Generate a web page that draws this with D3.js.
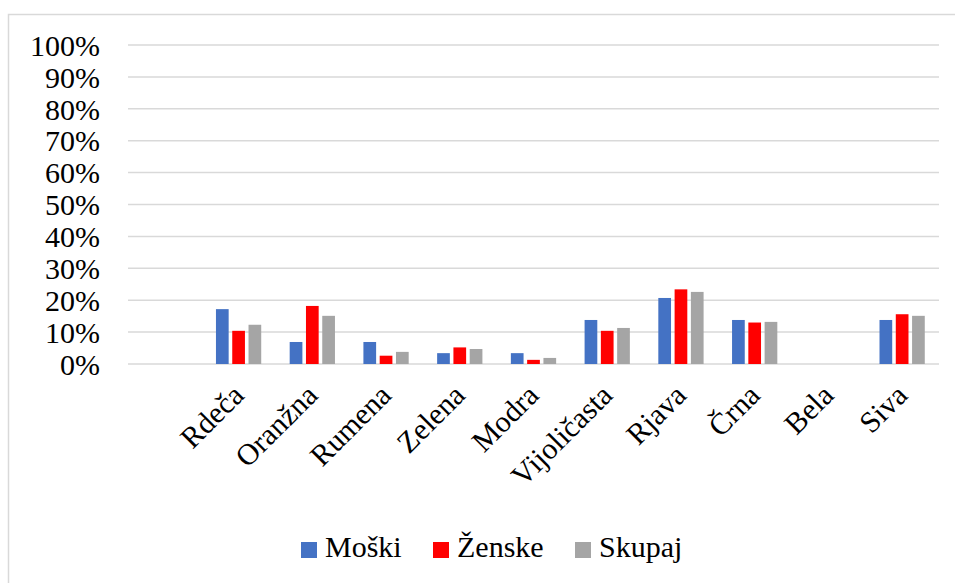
<!DOCTYPE html>
<html>
<head>
<meta charset="utf-8">
<script src="https://cdn.jsdelivr.net/npm/d3@7"></script>
<style>
  body { margin: 0; background: #fff; }
  svg text { font-family: "Liberation Serif", "Times New Roman", serif; fill: #000; }
</style>
</head>
<body>
<div id="chart"></div>
<script>
// categories (first slot is empty in the original chart)
const categories = ["", "Rdeča", "Oranžna", "Rumena", "Zelena", "Modra", "Vijoličasta", "Rjava", "Črna", "Bela", "Siva"];
const seriesNames = ["Moški", "Ženske", "Skupaj"];
const colors = ["#4472C4", "#FF0000", "#A5A5A5"];

// values in %
const moski  = [null, 17.2, 6.9, 6.9, 3.4, 3.4, 13.8, 20.7, 13.8, 0, 13.8];
const zenske = [null, 10.4, 18.2, 2.6, 5.2, 1.3, 10.4, 23.4, 13.0, 0, 15.6];
const skupaj = [null, 12.3, 15.1, 3.8, 4.7, 1.9, 11.3, 22.6, 13.2, 0, 15.1];
const yTicks = [0, 10, 20, 30, 40, 50, 60, 70, 80, 90, 100];

const seriesValues = [moski, zenske, skupaj];

const width = 955, height = 583;
const margin = {top: 45, right: 16, bottom: 219, left: 128};
const serif = "'Liberation Serif', 'Times New Roman', serif";

const svg = d3.select("#chart")
  .append("svg")
  .attr("width", width)
  .attr("height", height)
  .attr("font-family", serif);

// chart frame
svg.append("rect")
  .attr("x", 8.5).attr("y", 14.5)
  .attr("width", 960).attr("height", 600)
  .attr("fill", "none")
  .attr("stroke", "#d9d9d9")
  .attr("stroke-width", 1.5);

const x0 = d3.scaleBand()
  .domain(categories.map((d, i) => i))
  .range([margin.left, width - margin.right])
  .padding(0);

const groupW = x0.bandwidth() * 0.614;
const x1 = d3.scaleBand()
  .domain(seriesNames)
  .range([0, groupW])
  .paddingInner(0.22)
  .paddingOuter(0);

const y = d3.scaleLinear()
  .domain([0, 100])
  .range([height - margin.bottom, margin.top]);

// gridlines
svg.append("g")
  .selectAll("line")
  .data(yTicks)
  .join("line")
  .attr("x1", margin.left)
  .attr("x2", width - margin.right)
  .attr("y1", d => y(d))
  .attr("y2", d => y(d))
  .attr("stroke", "#d9d9d9")
  .attr("stroke-width", 1.5);

// y axis labels
const yAxis = svg.append("g")
  .attr("transform", `translate(${margin.left - 28},0)`)
  .call(d3.axisLeft(y).tickValues(yTicks).tickFormat(d => d + "%").tickSize(0).tickPadding(0))
  .attr("font-family", serif)
  .attr("font-size", 30);
yAxis.select(".domain").remove();
yAxis.selectAll("text")
  .attr("fill", "#000")
  .attr("dy", "0.34em");

// bars
const groups = svg.append("g")
  .selectAll("g")
  .data(categories.map((c, i) => i))
  .join("g")
  .attr("transform", i => `translate(${x0(i) + (x0.bandwidth() - groupW) / 2},0)`);

groups.selectAll("rect")
  .data(i => seriesNames.map((s, k) => ({s, k, v: seriesValues[k][i]})).filter(d => d.v !== null && d.v > 0))
  .join("rect")
  .attr("x", d => x1(d.s))
  .attr("width", x1.bandwidth())
  .attr("y", d => y(d.v))
  .attr("height", d => y(0) - y(d.v))
  .attr("fill", d => colors[d.k]);

// category labels
svg.append("g")
  .selectAll("text")
  .data(categories.map((c, i) => ({c, i})).filter(d => d.c !== ""))
  .join("text")
  .attr("transform", d => `translate(${x0(d.i) + x0.bandwidth() / 2 + 7},${y(0) + 33}) rotate(-45)`)
  .attr("text-anchor", "end")
  .attr("font-size", 30)
  .text(d => d.c);

// legend
const legendX = [301, 433, 575];
const legend = svg.append("g")
  .selectAll("g")
  .data(seriesNames)
  .join("g")
  .attr("transform", (d, i) => `translate(${legendX[i]},542)`);
legend.append("rect")
  .attr("width", 16).attr("height", 16)
  .attr("fill", (d, i) => colors[i]);
legend.append("text")
  .attr("x", 24).attr("y", 15)
  .attr("font-size", 30)
  .text(d => d);
</script>
</body>
</html>
